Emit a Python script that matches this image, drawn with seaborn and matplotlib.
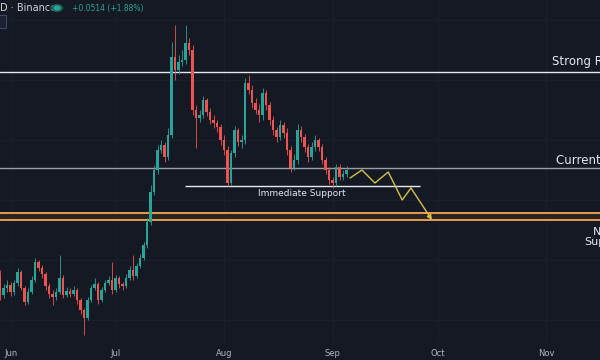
import matplotlib
matplotlib.use("Agg")
import matplotlib.pyplot as plt
import matplotlib.dates as mdates
import seaborn as sns
import pandas as pd

# daily candles, price units (hidden axis)
opens = [85, 65, 72, 75, 68, 77, 88, 72, 58, 68,
         80, 98, 92, 86, 74, 66, 63, 68, 82, 65,
         69, 66, 70, 60, 50, 42, 60, 72, 76, 60,
         70, 77, 80, 70, 82, 76, 74, 82, 90, 84,
         94, 102, 115, 138, 168, 190, 210, 215, 203, 225,
         303, 290, 298, 300, 317, 310, 250, 242, 245, 260,
         248, 240, 237, 233, 220, 210, 177, 207, 230, 218,
         220, 277, 270, 257, 250, 245, 267, 255, 240, 230,
         223, 235, 227, 210, 192, 200, 230, 223, 213, 203,
         213, 220, 213, 200, 190, 180, 177, 193, 183, 186]
closes = [65, 72, 75, 68, 77, 88, 72, 58, 68, 80,
          98, 92, 86, 74, 66, 63, 68, 82, 65, 69,
          66, 70, 60, 50, 42, 60, 72, 76, 60, 70,
          77, 80, 70, 82, 76, 74, 82, 90, 84, 94,
          102, 115, 138, 168, 190, 210, 215, 203, 225, 303,
          290, 298, 300, 317, 310, 250, 242, 245, 260, 248,
          240, 237, 233, 220, 210, 177, 207, 230, 218, 220,
          277, 270, 257, 250, 245, 267, 255, 240, 230, 223,
          235, 227, 210, 192, 200, 230, 223, 213, 203, 213,
          220, 213, 200, 190, 180, 177, 193, 183, 186, 190]
highs = [90, 76, 80, 78, 80, 92, 90, 74, 72, 84,
         102, 100, 95, 88, 77, 70, 72, 105, 85, 73,
         72, 74, 72, 62, 52, 63, 75, 82, 78, 73,
         80, 84, 98, 85, 84, 78, 86, 94, 105, 97,
         106, 118, 142, 175, 195, 215, 220, 218, 232, 318,
         335, 305, 310, 335, 322, 315, 255, 250, 264, 262,
         252, 245, 240, 236, 225, 214, 210, 234, 232, 225,
         282, 285, 275, 262, 256, 272, 270, 258, 244, 233,
         240, 238, 232, 214, 206, 236, 234, 226, 216, 218,
         225, 222, 216, 203, 193, 183, 196, 196, 190, 194]
lows = [60, 62, 68, 64, 65, 74, 70, 55, 56, 66,
        78, 89, 82, 70, 62, 55, 60, 66, 62, 63,
        63, 64, 56, 46, 25, 40, 58, 70, 56, 58,
        68, 75, 66, 68, 72, 70, 72, 80, 80, 82,
        92, 100, 112, 135, 165, 186, 207, 198, 200, 222,
        280, 286, 294, 296, 305, 245, 212, 238, 242, 244,
        236, 232, 228, 215, 205, 174, 175, 203, 214, 212,
        216, 266, 252, 246, 238, 240, 250, 235, 225, 218,
        220, 222, 205, 188, 190, 196, 218, 208, 198, 200,
        209, 209, 196, 186, 176, 172, 174, 180, 180, 183]

start_date = "2024-05-29"

# levels
strong_res = 288
current_res = 192
immediate_sup = 174
next_sup = [147, 140]

# projected path (day offset, price)
path_days = [100, 103.4, 107.1, 110.9, 114.9, 117.4, 123.4]
path_prices = [182, 190, 177, 188, 160, 172, 140]

bg = "#151924"
up, down = "#26a69a", "#ef5350"

sns.set_theme(style="dark", rc={"axes.facecolor": bg, "figure.facecolor": bg})
plt.rcParams["font.family"] = ["DejaVu Sans"]

fig = plt.figure(figsize=(6, 3.6), dpi=100)
ax = fig.add_axes([0, 17 / 360, 1, 343 / 360])

base = pd.Timestamp(start_date)
dates = pd.date_range(base, periods=len(closes), freq="D")
df = pd.DataFrame({"date": dates, "open": opens, "high": highs, "low": lows, "close": closes})
df["x"] = mdates.date2num(df["date"])
df["up"] = df["close"] >= df["open"]

x0 = mdates.date2num(base)

# wicks and bodies
for is_up, g in df.groupby("up"):
    col = up if is_up else down
    ax.vlines(g["x"], g["low"], g["high"], color=col, lw=0.6, zorder=3)
    bottoms = g[["open", "close"]].min(axis=1)
    heights = (g["close"] - g["open"]).abs().clip(lower=1)
    ax.bar(g["x"], heights, bottom=bottoms, width=0.7, color=col, lw=0, zorder=4)

# horizontal levels
ax.axhline(strong_res, color="#e6e8ee", lw=1, zorder=2)
ax.axhline(current_res, color="#9a9ea8", lw=1, zorder=2)
ax.hlines(immediate_sup, x0 + 52.9, x0 + 120, color="#e6e8ee", lw=1, zorder=2)
ax.axhspan(next_sup[1], next_sup[0], color="#2a2420", lw=0, zorder=1)
for lvl in next_sup:
    ax.axhline(lvl, color="#e89c52", lw=1.4, zorder=2)

# projection zigzag
zz = pd.DataFrame({"x": [x0 + d for d in path_days], "y": path_prices})
sns.lineplot(data=zz.iloc[:-1], x="x", y="y", color="#d2c04a", lw=1, ax=ax, zorder=5)
ax.annotate("", xy=(zz["x"].iloc[-1], zz["y"].iloc[-1]),
            xytext=(zz["x"].iloc[-2], zz["y"].iloc[-2]),
            arrowprops=dict(arrowstyle="-|>", color="#d2c04a", lw=1,
                            mutation_scale=7, shrinkA=0, shrinkB=0), zorder=5)

# labels
txt = "#e6e8ee"
ax.text(x0 + 157.7, 298, "Strong Resistance", color=txt, fontsize=8.5, va="center", ha="left")
ax.text(x0 + 158.9, 200, "Current Resistance", color=txt, fontsize=8.5, va="center", ha="left")
ax.text(x0 + 86.3, 167, "Immediate Support", color=txt, fontsize=6.5, va="center", ha="center")
ax.text(x0 + 173.1, 123, "Next\nSupport", color=txt, fontsize=8, va="center", ha="center",
        linespacing=1.1)

ax.set_xlim(x0, x0 + 171.4)
ax.set_ylim(17, 360)
ax.xaxis.set_major_locator(mdates.MonthLocator())
ax.xaxis.set_major_formatter(mdates.DateFormatter("%b"))
ax.tick_params(axis="x", colors="#b2b5be", labelsize=6, length=0, pad=4)
ax.set_yticks([40, 100, 160, 220, 280, 340])
ax.tick_params(axis="y", length=0, labelleft=False)
ax.grid(True, color="#1d212c", lw=0.6)
ax.set_xlabel("")
ax.set_ylabel("")
for s in ax.spines.values():
    s.set_visible(False)

# header
fig.text(0 / 600, 1 - 8 / 360, "D · Binance", color="#d1d4dc", fontsize=7, va="center", ha="left")
fig.patches.append(plt.Circle((57 / 600, 1 - 8 / 360), 0.009, transform=fig.transFigure,
                              color="#1f5f53", zorder=5))
fig.patches.append(plt.Circle((57 / 600, 1 - 8 / 360), 0.005, transform=fig.transFigure,
                              color="#26a69a", zorder=6))
fig.text(72 / 600, 1 - 8 / 360, "+0.0514 (+1.88%)", color="#26a69a", fontsize=5.5, va="center", ha="left")
fig.patches.append(plt.Rectangle((-0.01, 1 - 28 / 360), 12 / 600, 13 / 360, transform=fig.transFigure,
                                 facecolor="#1e2230", edgecolor="#3a4a6a", lw=0.8, zorder=5))

fig.savefig("out.png", dpi=100, facecolor=bg)
